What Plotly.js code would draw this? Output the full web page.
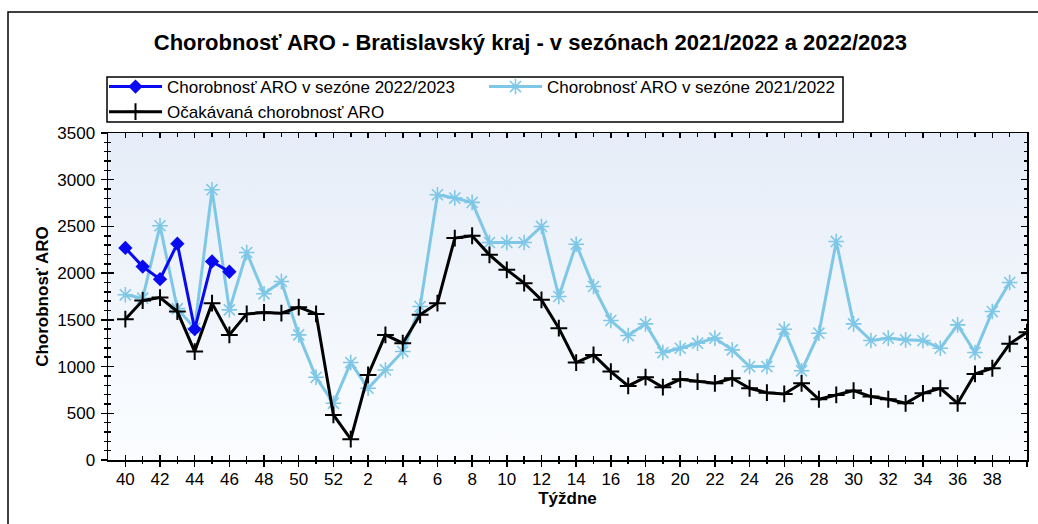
<!DOCTYPE html>
<html>
<head>
<meta charset="utf-8">
<script src="https://cdn.plot.ly/plotly-3.0.1.min.js"></script>
<style>
  html, body { margin: 0; padding: 0; background: #ffffff; }
  #chart { width: 1038px; height: 524px; }
</style>
</head>
<body>
<div id="chart"></div>
<script>
// ---- data ----
const weeks = [40,41,42,43,44,45,46,47,48,49,50,51,52,
  1,2,3,4,5,6,7,8,9,10,11,12,13,14,15,16,17,18,19,20,21,22,23,24,25,26,27,28,29,30,31,32,33,34,35,36,37,38,39,40];

const tickLabels = ["40","42","44","46","48","50","52","2","4","6","8","10","12","14","16","18","20","22","24","26","28","30","32","34","36","38"];

const season2223 = [2270, 2070, 1935, 2315, 1400, 2125, 2015];

const season2122 = [1768, 1732, 2507, 1620, 1410, 2893, 1607, 2221, 1779, 1911, 1339, 885, 607,
  1043, 768, 964, 1161, 1643, 2839, 2804, 2757, 2328, 2328, 2328, 2500, 1750, 2310, 1857, 1493,
  1332, 1457, 1150, 1196, 1250, 1304, 1179, 1000, 1000, 1400, 955, 1357, 2339, 1457, 1279, 1304,
  1286, 1279, 1196, 1446, 1150, 1589, 1900];

const expected = [1507, 1707, 1739, 1589, 1161, 1679, 1339, 1564, 1579, 1571, 1636, 1564, 482,
  223, 911, 1339, 1250, 1554, 1679, 2375, 2400, 2196, 2036, 1893, 1714, 1411, 1043, 1125, 946,
  793, 886, 779, 864, 839, 821, 875, 768, 721, 707, 821, 650, 696, 743, 679, 650, 607, 714,
  768, 607, 921, 982, 1243, 1368];

const seriesNames = [
  "Chorobnosť ARO v sezóne 2022/2023",
  "Chorobnosť ARO v sezóne 2021/2022",
  "Očakávaná chorobnosť ARO"
];

// ---- positions derived from data ----
const idx = weeks.map((w, i) => i);
const majorVals = [], minorVals = [];
weeks.forEach((w, i) => { if (w % 2 === 0) majorVals.push(i); else minorVals.push(i); });
const labeledVals = majorVals.slice(0, tickLabels.length);

const FONT = "Liberation Sans, Arial, sans-serif";

const traces = [
  {
    x: idx.slice(0, season2122.length), y: season2122, name: seriesNames[1],
    type: "scatter", mode: "lines+markers", legendrank: 2,
    line: { color: "#7fc7e6", width: 3 },
    marker: { symbol: "asterisk-open", size: 13, color: "#7fc7e6", line: { color: "#7fc7e6", width: 1.6 } }
  },
  {
    x: idx.slice(0, expected.length), y: expected, name: seriesNames[2],
    type: "scatter", mode: "lines+markers", legendrank: 3,
    line: { color: "#000000", width: 3 },
    marker: { symbol: "cross-thin-open", size: 12, color: "#000000", line: { color: "#000000", width: 2 } }
  },
  {
    x: idx.slice(0, season2223.length), y: season2223, name: seriesNames[0],
    xaxis: "x2", yaxis: "y2",
    type: "scatter", mode: "lines+markers", legendrank: 1,
    line: { color: "#0a0af0", width: 3 },
    marker: { symbol: "diamond", size: 11, color: "#0a0af0" }
  }
];

const xRange = [-1, weeks.length - 1];
const yRange = [0, 3500];

const gradSvg = '<svg xmlns="http://www.w3.org/2000/svg" width="100" height="100" preserveAspectRatio="none">' +
  '<defs><linearGradient id="g" x1="0" y1="0" x2="0" y2="1">' +
  '<stop offset="0" stop-color="#e6edf8"/><stop offset="1" stop-color="#fbfdff"/>' +
  '</linearGradient></defs><rect width="100" height="100" fill="url(#g)"/></svg>';

const W = 919, H = 327, L = 108, B = 460;
const px = v => (v - L) / W;
const py = v => (B - v) / H;

const layout = {
  width: 1038, height: 524,
  margin: { l: 108, r: 11, t: 133, b: 64 },
  paper_bgcolor: "#ffffff",
  plot_bgcolor: "#eef3fb",
  font: { family: FONT, color: "#000000", size: 17 },
  title: {
    text: "<b>Chorobnosť ARO - Bratislavský kraj - v sezónach 2021/2022 a 2022/2023</b>",
    font: { family: FONT, size: 22, color: "#000000" },
    xref: "container", x: 0.511, xanchor: "center",
    yref: "container", y: 1 - 42 / 524, yanchor: "middle"
  },
  showlegend: true,
  legend: {
    orientation: "h",
    x: px(104), xanchor: "left", xref: "paper",
    y: py(69), yanchor: "top", yref: "paper",
    borderwidth: 0, bgcolor: "rgba(0,0,0,0)",
    font: { family: FONT, size: 17, color: "#000000" },
    entrywidth: 312, entrywidthmode: "pixels",
    traceorder: "normal", tracegroupgap: 0, itemwidth: 53
  },
  xaxis: {
    range: xRange, showgrid: false, zeroline: false,
    showline: true, linecolor: "#000000", linewidth: 1.5, mirror: "ticks",
    tickmode: "array", tickvals: labeledVals, ticktext: tickLabels,
    ticks: "inside", ticklen: 5, tickwidth: 1.5, tickcolor: "#000000",
    ticklabelstandoff: 3,
    minor: { tickmode: "array", tickvals: minorVals, ticks: "inside", ticklen: 4, tickwidth: 1.5, tickcolor: "#000000", showgrid: false },
    tickfont: { family: FONT, size: 17, color: "#000000" },
    title: { text: "<b>Týždne</b>", font: { family: FONT, size: 17, color: "#000000" }, standoff: 4 },
    fixedrange: true
  },
  xaxis2: {
    overlaying: "x", anchor: "y2", side: "bottom", range: xRange, showgrid: false, zeroline: false,
    showline: false, showticklabels: false,
    tickmode: "array", tickvals: majorVals,
    ticks: "outside", ticklen: 6, tickwidth: 1.5, tickcolor: "#000000",
    minor: { tickmode: "array", tickvals: minorVals, ticks: "outside", ticklen: 3, tickwidth: 1.5, tickcolor: "#000000", showgrid: false },
    fixedrange: true
  },
  yaxis: {
    range: yRange, showgrid: false, zeroline: false,
    showline: true, linecolor: "#000000", linewidth: 1.5, mirror: "ticks",
    tickmode: "linear", tick0: 0, dtick: 500,
    ticks: "inside", ticklen: 6, tickwidth: 1.5, tickcolor: "#000000",
    ticklabelstandoff: 8,
    minor: { dtick: 100, ticks: "inside", ticklen: 3, tickwidth: 1.5, tickcolor: "#000000", showgrid: false },
    tickfont: { family: FONT, size: 17, color: "#000000" },
    title: { text: "<b>Chorobnosť ARO</b>", font: { family: FONT, size: 17, color: "#000000" }, standoff: 4 },
    fixedrange: true
  },
  yaxis2: {
    overlaying: "y", anchor: "x2", side: "left", range: yRange, showgrid: false, zeroline: false,
    showline: false, showticklabels: false,
    tickmode: "linear", tick0: 0, dtick: 500,
    ticks: "outside", ticklen: 6, tickwidth: 1.5, tickcolor: "#000000",
    minor: { dtick: 100, ticks: "outside", ticklen: 3, tickwidth: 1.5, tickcolor: "#000000", showgrid: false },
    fixedrange: true
  },
  images: [{
    source: "data:image/svg+xml;charset=utf-8," + encodeURIComponent(gradSvg),
    xref: "paper", yref: "paper", x: 0, y: 1, sizex: 1, sizey: 1,
    sizing: "stretch", xanchor: "left", yanchor: "top", layer: "below"
  }],
  shapes: [
    {
      type: "rect", xref: "paper", yref: "paper",
      x0: px(8), x1: px(1045), y0: py(540), y1: py(12),
      line: { color: "#000000", width: 1.5 }, fillcolor: "rgba(0,0,0,0)", layer: "above"
    },
    {
      type: "rect", xref: "paper", yref: "paper",
      x0: px(107), x1: px(843), y0: py(122), y1: py(77),
      line: { color: "#000000", width: 1.5 }, fillcolor: "#ffffff", layer: "below"
    }
  ]
};

Plotly.newPlot("chart", traces, layout, { displayModeBar: false, staticPlot: true });
</script>
</body>
</html>
